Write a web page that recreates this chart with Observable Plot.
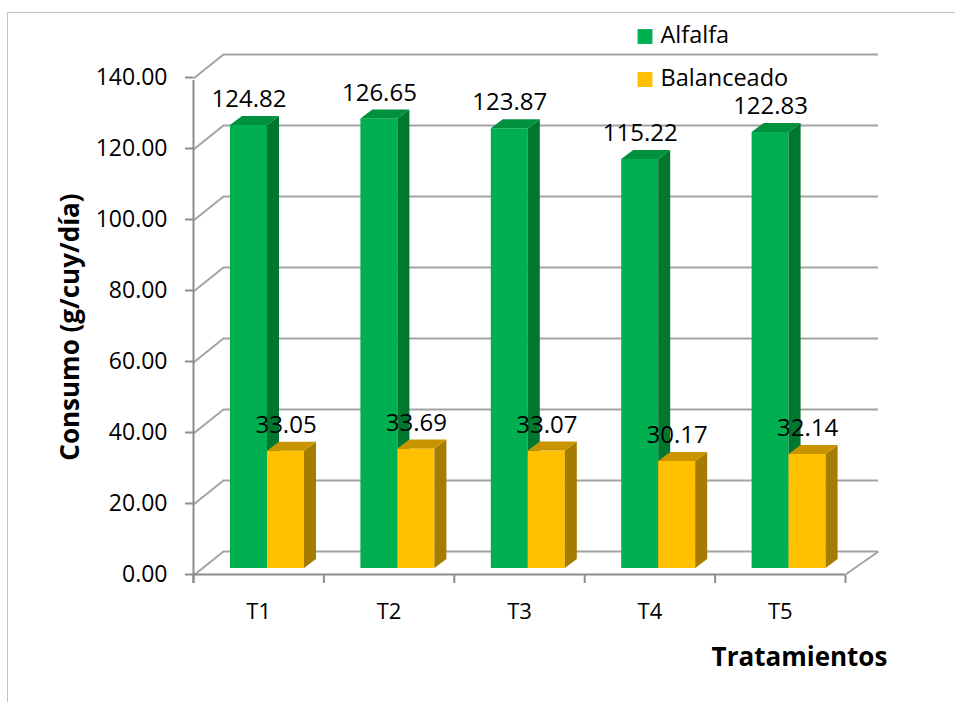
<!DOCTYPE html>
<html>
<head>
<meta charset="utf-8">
<script src="https://cdn.jsdelivr.net/npm/d3@7"></script>
<script src="https://cdn.jsdelivr.net/npm/@observablehq/plot@0.6"></script>
<style>
  html, body { margin: 0; padding: 0; background: #fff; }
  #wrap { position: relative; width: 955px; height: 702px; overflow: hidden; }
  #wrap::before {
    content: ""; position: absolute; left: 7px; top: 12px; right: -10px; bottom: -10px;
    border-left: 1.5px solid #c4c4c4; border-top: 1.5px solid #c4c4c4;
  }
  #wrap svg { position: absolute; left: 0; top: 0; }
</style>
</head>
<body>
<div id="wrap"></div>
<pre id="log"></pre>
<script>
// Consumo diario por tratamiento (g/cuy/día)
const categories = ["T1", "T2", "T3", "T4", "T5"];
const alfalfa = [124.82, 126.65, 123.87, 115.22, 122.83];
const balanceado = [33.05, 33.69, 33.07, 30.17, 32.14];
const seriesNames = ["Alfalfa", "Balanceado"];
const yTicks = [0, 20, 40, 60, 80, 100, 120, 140];

// Layout of the pseudo-3D chart (pixels)
const W = 955, H = 702;
const mL = 193, mR = 110, mT = 71, mB = 134;
const yMax = 140;
const kx = (W - mL - mR) / categories.length;   // px per category
const ky = (H - mT - mB) / yMax;                // px per unit of consumo
const px = p => p / kx;                         // pixels -> x units
const py = p => p / ky;                         // pixels -> y units

const FRONT_DY = 7;               // front plane sits below the bar plane
const BACK_DX = 30, BACK_DY = 17; // back wall offset
const DEPTH_X = 12, DEPTH_Y = 9;  // bar depth

const fills = {
  Alfalfa:    {front: "#00b050", side: "#00772f", top: "#00913f"},
  Balanceado: {front: "#ffc000", side: "#a67c00", top: "#c89500"}
};
const slot = {Alfalfa: [37, 74], Balanceado: [74, 111]};

try {
const rows = [];
seriesNames.forEach((s, si) => {
  const vals = si === 0 ? alfalfa : balanceado;
  categories.forEach((c, i) => {
    rows.push({
      id: s + c, series: s, cat: c, value: vals[i],
      x1: i + px(slot[s][0]), x2: i + px(slot[s][1])
    });
  });
});

const sides = rows.flatMap(r => [
  {id: r.id, series: r.series, x: r.x2, y1: 0, y2: r.value},
  {id: r.id, series: r.series, x: r.x2 + px(DEPTH_X), y1: py(DEPTH_Y), y2: r.value + py(DEPTH_Y)}
]);
const tops = rows.flatMap(r => [
  {id: r.id, series: r.series, y: r.value, x1: r.x1, x2: r.x2},
  {id: r.id, series: r.series, y: r.value + py(DEPTH_Y), x1: r.x1 + px(DEPTH_X), x2: r.x2 + px(DEPTH_X)}
]);

const font = "'Open Sans', 'DejaVu Sans', sans-serif";
const grid = "#a3a3a3";
const axisC = "#8c8c8c";

function barMarks(s) {
  const r = rows.filter(b => b.series === s);
  return [
    Plot.rectY(r, {x1: "x1", x2: "x2", y1: 0, y2: "value", fill: fills[s].front}),
    Plot.areaY(sides.filter(b => b.series === s), {x: "x", y1: "y1", y2: "y2", z: "id", fill: fills[s].side}),
    Plot.areaX(tops.filter(b => b.series === s), {y: "y", x1: "x1", x2: "x2", z: "id", fill: fills[s].top})
  ];
}

const n = categories.length;
const chart = Plot.plot({
  width: W, height: H,
  marginLeft: mL, marginRight: mR, marginTop: mT, marginBottom: mB,
  style: {fontFamily: font, background: "transparent", overflow: "visible"},
  x: {type: "linear", domain: [0, n], axis: null},
  y: {type: "linear", domain: [0, yMax], axis: null},
  marks: [
    // back wall gridlines
    Plot.ruleY(yTicks, {y: v => v, x1: px(BACK_DX), x2: n + px(BACK_DX + 3), dy: -BACK_DY, stroke: grid, strokeWidth: 2}),
    // side wall diagonals
    Plot.link(yTicks, {x1: 0, y1: v => v - py(FRONT_DY), x2: px(BACK_DX), y2: v => v + py(BACK_DY), stroke: grid, strokeWidth: 2}),
    // floor right edge
    Plot.link([0], {x1: n, y1: v => v - py(FRONT_DY - 1), x2: n + px(BACK_DX + 3), y2: v => v + py(BACK_DY), stroke: grid, strokeWidth: 2}),
    // front floor edge (category axis)
    Plot.ruleY([0], {x1: 0, x2: n, dy: FRONT_DY - 1, stroke: axisC, strokeWidth: 2}),
    // category ticks
    Plot.ruleX(d3.range(n + 1), {x: v => v, y1: -py(FRONT_DY), y2: -py(FRONT_DY + 8), stroke: axisC, strokeWidth: 2}),
    // front value axis
    Plot.ruleX([0], {x: 0, y1: -py(FRONT_DY + 8), y2: yMax - py(FRONT_DY + 2), stroke: axisC, strokeWidth: 2}),
    Plot.ruleY(yTicks, {y: v => v, x1: -px(8), x2: 0, dy: FRONT_DY - 1, stroke: axisC, strokeWidth: 2}),
    // bars
    ...barMarks("Alfalfa"),
    ...barMarks("Balanceado"),
    // value labels
    Plot.text(rows, {x: r => (r.x1 + r.x2) / 2, y: "value", dy: -26, text: r => r.value.toFixed(2),
      fontSize: 24, fill: "#000"}),
    // tick labels
    Plot.text(yTicks, {x: 0, y: v => v, dx: -26, dy: FRONT_DY - 1, text: v => v.toFixed(2),
      textAnchor: "end", fontSize: 23, fill: "#000"}),
    Plot.text(categories, {x: (c, i) => i + 0.5, y: 0, dy: 43, text: c => c, fontSize: 22, fill: "#000"}),
    // axis titles
    Plot.text(["Consumo (g/cuy/día)"], {frameAnchor: "left", dx: -123, dy: 7, rotate: -90, text: t => t,
      textAnchor: "middle", lineAnchor: "middle", fontSize: 26, fontWeight: "bold", fill: "#000"}),
    Plot.text(["Tratamientos"], {frameAnchor: "bottom", dx: 280, dy: 89, text: t => t,
      lineAnchor: "middle", fontSize: 26, fontWeight: "bold", fill: "#000"}),
    // legend
    ...seriesNames.flatMap((s, i) => [
      Plot.dot([s], {frameAnchor: "top-left", dx: 451.5, dy: -35 + i * 43, symbol: "square", r: 8.4,
        fill: fills[s].front, stroke: null}),
      Plot.text([s], {frameAnchor: "top-left", dx: 467, dy: -36 + i * 43, text: t => t,
        textAnchor: "start", lineAnchor: "middle", fontSize: 23.5, fill: "#000"})
    ])
  ]
});

document.getElementById("wrap").appendChild(chart);
} catch (e) {
  document.getElementById("log").textContent = e.message + "\n" + e.stack;
}
</script>
</body>
</html>
